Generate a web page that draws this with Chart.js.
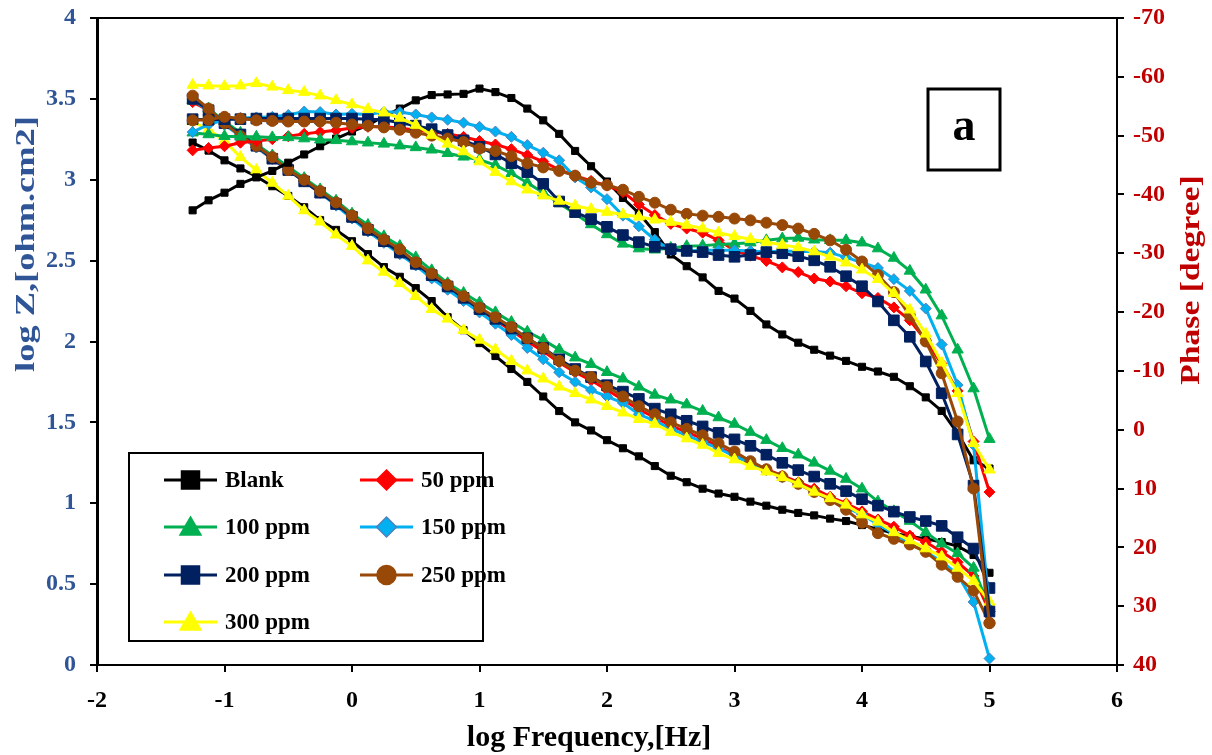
<!DOCTYPE html>
<html>
<head>
<meta charset="utf-8">
<script src="https://cdn.jsdelivr.net/npm/chart.js@4.4.1/dist/chart.umd.min.js"></script>
<style>
    body { margin: 0; background: #fff; }
    #chart-wrap { width: 1212px; height: 755px; position: relative; }
</style>
</head>
<body>
<div id="chart-wrap"><canvas id="bode-chart"></canvas></div>
<script>
// log frequency grid (Hz, log10)
const logFreq = [
    -1.25,-1.125,-1,-0.875,-0.75,-0.625,-0.5,-0.375,-0.25,-0.125,
    0,0.125,0.25,0.375,0.5,0.625,0.75,0.875,1,1.125,
    1.25,1.375,1.5,1.625,1.75,1.875,2,2.125,2.25,2.375,
    2.5,2.625,2.75,2.875,3,3.125,3.25,3.375,3.5,3.625,
    3.75,3.875,4,4.125,4.25,4.375,4.5,4.625,4.75,4.875,5
];

// log Z values, [ohm.cm2]
const blankLogZ = [
    3.23,3.18,3.12,3.07,3.02,2.96,2.90,2.83,2.75,2.69,
    2.62,2.54,2.46,2.40,2.33,2.25,2.15,2.07,1.99,1.91,
    1.83,1.75,1.66,1.57,1.50,1.45,1.39,1.34,1.29,1.23,
    1.17,1.13,1.09,1.06,1.04,1.01,0.985,0.96,0.94,0.925,
    0.905,0.89,0.865,0.84,0.815,0.795,0.78,0.76,0.735,0.68,0.57
];
const ppm50LogZ = [
    3.48,3.43,3.35,3.27,3.20,3.13,3.06,2.99,2.92,2.85,
    2.77,2.69,2.62,2.55,2.48,2.41,2.34,2.27,2.20,2.13,
    2.07,2.00,1.94,1.87,1.81,1.76,1.70,1.64,1.58,1.53,
    1.48,1.44,1.40,1.35,1.30,1.25,1.21,1.17,1.13,1.09,
    1.04,1.00,0.95,0.90,0.855,0.80,0.76,0.70,0.635,0.55,0.33
];
const ppm100LogZ = [
    3.49,3.44,3.36,3.29,3.22,3.15,3.08,3.01,2.94,2.87,
    2.79,2.72,2.65,2.59,2.52,2.44,2.36,2.30,2.24,2.18,
    2.12,2.06,2.01,1.95,1.90,1.86,1.81,1.77,1.72,1.67,
    1.64,1.61,1.57,1.53,1.49,1.44,1.39,1.34,1.30,1.25,
    1.20,1.15,1.09,1.01,0.95,0.89,0.82,0.75,0.69,0.60,0.35
];
const ppm150LogZ = [
    3.50,3.42,3.34,3.27,3.20,3.13,3.06,2.99,2.92,2.84,
    2.76,2.68,2.61,2.54,2.47,2.39,2.32,2.25,2.18,2.11,
    2.04,1.96,1.89,1.81,1.75,1.70,1.66,1.62,1.55,1.51,
    1.46,1.42,1.38,1.34,1.29,1.25,1.205,1.16,1.12,1.07,
    1.02,0.975,0.93,0.87,0.81,0.75,0.70,0.64,0.56,0.39,0.04
];
const ppm200LogZ = [
    3.50,3.43,3.35,3.28,3.21,3.13,3.06,2.99,2.92,2.85,
    2.77,2.69,2.62,2.55,2.48,2.41,2.34,2.27,2.20,2.14,
    2.08,2.02,1.96,1.89,1.83,1.78,1.73,1.69,1.645,1.585,
    1.55,1.51,1.475,1.435,1.395,1.355,1.30,1.25,1.205,1.165,
    1.12,1.075,1.025,0.985,0.948,0.915,0.89,0.86,0.79,0.72,0.476
];
const ppm250LogZ = [
    3.52,3.44,3.35,3.27,3.21,3.14,3.06,3.00,2.93,2.86,
    2.78,2.70,2.63,2.57,2.49,2.42,2.35,2.28,2.21,2.15,
    2.09,2.02,1.96,1.88,1.82,1.78,1.72,1.66,1.60,1.55,
    1.50,1.46,1.42,1.37,1.32,1.26,1.21,1.165,1.12,1.07,
    1.02,0.96,0.88,0.815,0.78,0.745,0.70,0.62,0.545,0.46,0.26
];
const ppm300LogZ = [
    3.36,3.31,3.24,3.14,3.06,2.98,2.90,2.81,2.74,2.66,
    2.59,2.50,2.43,2.36,2.28,2.20,2.14,2.07,2.01,1.95,
    1.88,1.82,1.77,1.72,1.68,1.64,1.60,1.56,1.52,1.49,
    1.44,1.40,1.36,1.31,1.27,1.23,1.195,1.16,1.12,1.07,
    1.03,0.99,0.93,0.885,0.82,0.77,0.72,0.67,0.60,0.52,0.39
];

// phase values, [degree]
const blankPhase = [
    -37.3,-39.0,-40.3,-41.8,-42.9,-44.0,-45.4,-46.8,-48.2,-49.5,
    -50.7,-51.8,-53.3,-54.6,-56.0,-56.9,-57.0,-57.1,-58.0,-57.4,
    -56.4,-54.6,-52.6,-50.3,-47.4,-44.8,-42.2,-39.4,-36.8,-33.6,
    -29.8,-27.8,-25.9,-23.6,-22.3,-20.2,-17.9,-16.2,-14.8,-13.6,
    -12.6,-11.7,-10.7,-9.9,-9.0,-7.4,-5.5,-3.2,0.6,5.2,6.6
];
const ppm50Phase = [
    -47.5,-47.9,-48.2,-48.8,-49.1,-49.4,-49.9,-50.3,-50.6,-50.9,
    -51.3,-51.5,-51.5,-51.3,-50.9,-50.6,-50.3,-49.8,-49.1,-48.5,
    -47.7,-46.7,-45.6,-44.2,-43.2,-42.3,-41.5,-40.4,-38.3,-36.5,
    -35.0,-34.2,-33.5,-32.2,-30.5,-29.6,-28.7,-27.6,-26.8,-25.7,
    -25.2,-24.4,-23.2,-22.4,-20.8,-18.6,-15.2,-11.2,-6.6,2.0,10.6
];
const ppm100Phase = [
    -50.5,-50.2,-49.9,-49.8,-49.8,-49.7,-49.7,-49.5,-49.3,-49.2,
    -49.0,-48.8,-48.6,-48.3,-48.0,-47.6,-47.0,-46.4,-45.9,-45.0,
    -43.6,-42.0,-40.3,-38.5,-36.7,-34.9,-33.2,-31.6,-30.8,-30.6,
    -30.9,-31.2,-31.3,-31.5,-31.6,-31.8,-32.2,-32.5,-32.6,-32.3,
    -32.2,-32.2,-31.8,-30.8,-29.2,-27.0,-23.8,-19.4,-13.6,-7.0,1.6
];
const ppm150Phase = [
    -50.6,-51.9,-52.7,-53.0,-53.1,-53.2,-53.5,-54.1,-54.0,-53.6,
    -53.7,-53.6,-54.0,-54.0,-53.6,-53.1,-52.7,-52.2,-51.5,-50.7,
    -49.8,-48.4,-47.1,-45.8,-42.9,-41.2,-39.2,-36.4,-34.6,-32.3,
    -30.5,-30.4,-30.5,-30.5,-30.5,-30.4,-30.2,-30.4,-30.3,-30.3,
    -30.1,-29.3,-28.4,-27.5,-25.6,-23.6,-20.6,-14.5,-7.6,2.6,30.5
];
const ppm200Phase = [
    -52.8,-52.7,-52.8,-52.8,-52.9,-52.9,-52.9,-52.9,-52.9,-52.9,
    -52.9,-52.8,-52.7,-52.2,-51.7,-51.1,-50.1,-49.2,-48.1,-46.8,
    -45.3,-43.8,-41.8,-38.8,-37.0,-35.8,-34.5,-33.1,-31.9,-31.1,
    -30.7,-30.4,-30.2,-29.7,-29.4,-29.7,-30.2,-30.0,-29.5,-28.8,
    -27.7,-26.1,-24.4,-21.8,-18.6,-15.8,-11.6,-6.2,0.8,9.5,30.9
];
const ppm250Phase = [
    -52.6,-52.7,-53.2,-52.9,-52.6,-52.5,-52.4,-52.4,-52.4,-52.2,
    -51.9,-51.7,-51.4,-51.0,-50.5,-50.0,-49.5,-48.9,-47.8,-47.4,
    -46.5,-45.3,-44.6,-44.0,-43.2,-42.0,-41.6,-40.8,-39.6,-38.6,
    -37.4,-36.7,-36.4,-36.2,-35.9,-35.6,-35.2,-34.8,-34.2,-33.3,
    -32.2,-30.6,-28.6,-26.3,-23.4,-19.4,-15.0,-9.6,-1.4,10.0,32.9
];
const ppm300Phase = [
    -58.6,-58.5,-58.4,-58.5,-58.9,-58.3,-57.7,-57.4,-56.8,-56.0,
    -55.3,-54.5,-53.9,-53.0,-51.8,-50.1,-48.6,-47.3,-45.6,-43.8,
    -42.2,-40.8,-39.8,-38.9,-38.1,-37.5,-37.0,-36.6,-36.2,-35.7,
    -35.3,-34.8,-34.2,-33.5,-32.9,-32.4,-31.9,-31.4,-31.0,-30.3,
    -29.4,-28.4,-27.2,-25.6,-23.2,-20.4,-16.3,-11.4,-6.2,2.3,6.8
];

const seriesNames = ["Blank", "50 ppm", "100 ppm", "150 ppm", "200 ppm", "250 ppm", "300 ppm"];
const logZSeries = [blankLogZ, ppm50LogZ, ppm100LogZ, ppm150LogZ, ppm200LogZ, ppm250LogZ, ppm300LogZ];
const phaseSeries = [blankPhase, ppm50Phase, ppm100Phase, ppm150Phase, ppm200Phase, ppm250Phase, ppm300Phase];

const lineColors = ["#000000", "#FF0000", "#00B050", "#00B0F0", "#002060", "#984807", "#FFFF00"];
const markerEdges = ["#000000", "#FF0000", "#00B050", "#4F81BD", "#002060", "#984807", "#FFFF00"];
const markerStyles = ["rect", "rectRot", "triangle", "rectRot", "rect", "circle", "triangle"];
const markerRadius = [5, 5.5, 6.5, 5.5, 7.5, 5.5, 6.5];

const serifFont = "'Liberation Serif', 'Times New Roman', serif";
const axisBlue = "#2F5597";
const axisRed = "#C00000";

function toPoints(values){
    return logFreq.map((x, i) => ({x: x, y: values[i]}));
};

let datasets = [];
for (let i = 0; i < seriesNames.length; i++){
    // impedance modulus on the left axis, drawn underneath
    datasets.push({
        label: seriesNames[i],
        data: toPoints(logZSeries[i]),
        yAxisID: "y",
        borderColor: lineColors[i],
        backgroundColor: lineColors[i],
        borderWidth: 3,
        pointStyle: markerStyles[i],
        pointRadius: markerRadius[i],
        pointBackgroundColor: lineColors[i],
        pointBorderColor: markerEdges[i],
        pointBorderWidth: 1,
        tension: 0,
        order: 20 - i,
    });
    // phase angle on the right axis
    datasets.push({
        label: seriesNames[i] + " phase",
        data: toPoints(phaseSeries[i]),
        yAxisID: "y2",
        borderColor: lineColors[i],
        backgroundColor: lineColors[i],
        borderWidth: 3,
        pointStyle: markerStyles[i],
        pointRadius: markerRadius[i],
        pointBackgroundColor: lineColors[i],
        pointBorderColor: markerEdges[i],
        pointBorderWidth: 1,
        tension: 0,
        order: 10 - i,
    });
};

function drawMarker(ctx, style, x, y, fill, edge){
    ctx.fillStyle = fill;
    ctx.strokeStyle = edge;
    ctx.lineWidth = 1.5;
    ctx.beginPath();
    if (style === "rect"){
        ctx.rect(x - 9, y - 9, 18, 18);
    }else if (style === "rectRot"){
        ctx.moveTo(x, y - 10);
        ctx.lineTo(x + 10, y);
        ctx.lineTo(x, y + 10);
        ctx.lineTo(x - 10, y);
        ctx.closePath();
    }else if (style === "triangle"){
        ctx.moveTo(x, y - 10);
        ctx.lineTo(x + 10.5, y + 8);
        ctx.lineTo(x - 10.5, y + 8);
        ctx.closePath();
    }else{
        ctx.arc(x, y, 9.5, 0, Math.PI * 2);
    }
    ctx.fill();
    ctx.stroke();
};

function drawVerticalText(ctx, text, cx, cy, font, color, stretch){
    ctx.save();
    ctx.translate(cx, cy);
    ctx.rotate(-Math.PI / 2);
    ctx.scale(stretch, 1);
    ctx.font = font;
    ctx.fillStyle = color;
    ctx.textAlign = "center";
    ctx.textBaseline = "middle";
    ctx.fillText(text, 0, 0);
    ctx.restore();
};

const decorPlugin = {
    id: "decor",
    afterDraw(chart){
        const ctx = chart.ctx;
        const area = chart.chartArea;
        ctx.save();

        // plot frame
        ctx.strokeStyle = "#000";
        ctx.lineWidth = 2;
        ctx.strokeRect(area.left, area.top, area.right - area.left, area.bottom - area.top);

        // panel letter box
        ctx.lineWidth = 3;
        ctx.fillStyle = "#fff";
        ctx.fillRect(928, 89, 72, 81);
        ctx.strokeRect(928, 89, 72, 81);
        ctx.fillStyle = "#000";
        ctx.font = "bold 46px " + serifFont;
        ctx.textAlign = "center";
        ctx.textBaseline = "middle";
        ctx.fillText("a", 964, 128);

        // legend
        ctx.fillStyle = "#fff";
        ctx.fillRect(129, 453, 354, 188);
        ctx.lineWidth = 2;
        ctx.strokeStyle = "#000";
        ctx.strokeRect(129, 453, 354, 188);
        const rowsY = [480, 527, 575, 622];
        const columns = [{lineStart: 164, text: 225}, {lineStart: 360, text: 421}];
        const slots = [[0, 0], [1, 1], [0, 2], [1, 3], [0, 4], [1, 5], [0, 6]];
        ctx.font = "bold 23px " + serifFont;
        ctx.textAlign = "left";
        ctx.textBaseline = "middle";
        slots.forEach(([col, idx], n) => {
            const row = Math.floor(n / 2);
            const y = rowsY[row];
            const c = columns[col];
            ctx.strokeStyle = lineColors[idx];
            ctx.lineWidth = 3;
            ctx.beginPath();
            ctx.moveTo(c.lineStart, y);
            ctx.lineTo(c.lineStart + 53, y);
            ctx.stroke();
            drawMarker(ctx, markerStyles[idx], c.lineStart + 26.5, y, lineColors[idx], markerEdges[idx]);
            ctx.fillStyle = "#000";
            ctx.fillText(seriesNames[idx], c.text, y + 1);
        });

        // axis titles
        drawVerticalText(ctx, "log Z,[ohm.cm2]", 27, 244, "bold 28px " + serifFont, axisBlue, 1.3);
        drawVerticalText(ctx, "Phase [degree]", 1192, 280, "bold 28px " + serifFont, axisRed, 1.2);
        ctx.fillStyle = "#000";
        ctx.font = "bold 30px " + serifFont;
        ctx.textAlign = "center";
        ctx.textBaseline = "middle";
        ctx.fillText("log Frequency,[Hz]", 589, 738);

        ctx.restore();
    }
};

const tickFont = {family: serifFont, size: 24, weight: "bold"};
const tickGrid = {
    display: true,
    drawOnChartArea: false,
    drawTicks: true,
    tickLength: 7,
    color: "#000",
    lineWidth: 2,
};

// keep tick-label overflow from pushing the plot area around
function fixScaleBox(scale, size){
    if (scale.isHorizontal()){
        scale.height = size;
    }else{
        scale.width = size;
    }
    scale.paddingTop = 0;
    scale.paddingBottom = 0;
    scale.paddingLeft = 0;
    scale.paddingRight = 0;
};

const bodeChart = new Chart(document.querySelector("#bode-chart"), {
    type: "line",
    data: {datasets: datasets},
    options: {
        responsive: true,
        maintainAspectRatio: false,
        animation: false,
        layout: {padding: {top: 18, left: 0, right: 0, bottom: 0}},
        scales: {
            x: {
                type: "linear",
                min: -2,
                max: 6,
                ticks: {stepSize: 1, color: "#000", font: tickFont, padding: 14},
                grid: tickGrid,
                border: {display: true, color: "#000", width: 2},
                afterFit: (scale) => fixScaleBox(scale, 90),
            },
            y: {
                type: "linear",
                position: "left",
                min: 0,
                max: 4,
                ticks: {
                    stepSize: 0.5,
                    color: axisBlue,
                    font: tickFont,
                    padding: 14,
                    callback: (value) => String(value),
                },
                grid: tickGrid,
                border: {display: true, color: "#000", width: 3},
                afterFit: (scale) => fixScaleBox(scale, 97),
            },
            y2: {
                type: "linear",
                position: "right",
                min: -70,
                max: 40,
                reverse: true,
                ticks: {stepSize: 10, color: axisRed, font: tickFont, padding: 9},
                grid: tickGrid,
                border: {display: true, color: "#000", width: 2},
                afterFit: (scale) => fixScaleBox(scale, 95),
            },
        },
        plugins: {
            legend: {display: false},
            tooltip: {enabled: false},
        },
    },
    plugins: [decorPlugin],
});
</script>
</body>
</html>
